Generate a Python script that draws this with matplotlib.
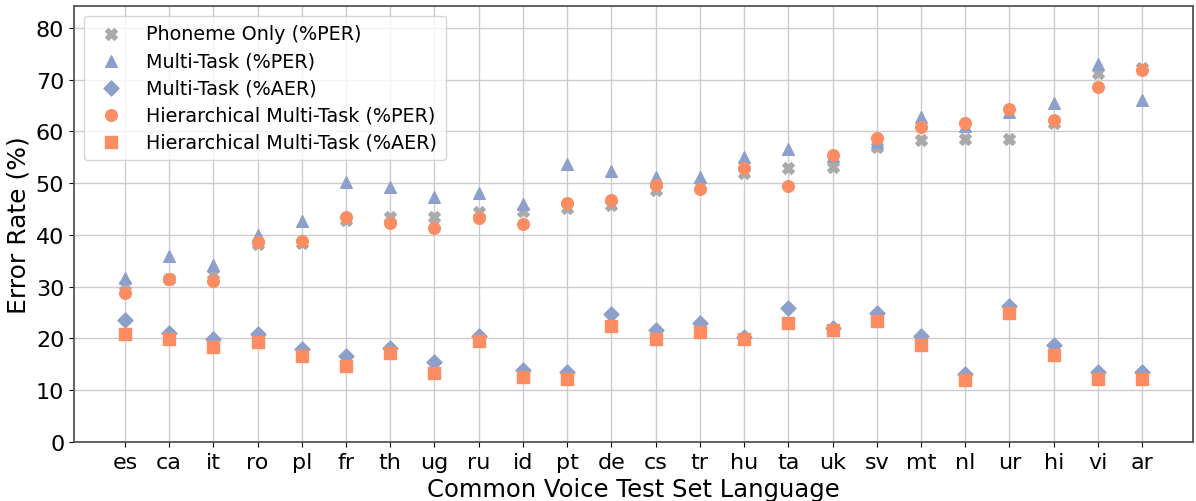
import matplotlib
matplotlib.use("Agg")
import matplotlib.pyplot as plt

languages = ["es", "ca", "it", "ro", "pl", "fr", "th", "ug", "ru", "id", "pt", "de",
             "cs", "tr", "hu", "ta", "uk", "sv", "mt", "nl", "ur", "hi", "vi", "ar"]

phoneme_only_per = [30.3, 31.4, 32.5, 38.2, 38.4, 42.9, 43.4, 43.4, 44.4, 44.6, 45.1, 45.7,
                    48.7, 49.7, 52.0, 53.0, 53.2, 57.0, 58.4, 58.5, 58.5, 61.6, 71.3, 72.2]
multitask_per = [31.6, 35.9, 34.1, 39.9, 42.6, 50.2, 49.2, 47.3, 48.1, 45.9, 53.7, 52.4,
                 51.1, 51.1, 55.1, 56.6, 55.2, 57.9, 62.7, 61.0, 63.7, 65.5, 73.1, 66.1]
multitask_aer = [23.6, 21.1, 19.9, 20.8, 18.0, 16.7, 18.1, 15.5, 20.4, 14.0, 13.5, 24.7,
                 21.6, 23.0, 20.2, 25.9, 22.1, 24.9, 20.5, 13.2, 26.3, 18.7, 13.5, 13.5]
hier_per = [28.7, 31.5, 31.1, 38.7, 38.8, 43.4, 42.3, 41.3, 43.2, 42.1, 46.2, 46.8,
            49.7, 48.9, 53.0, 49.5, 55.4, 58.8, 60.9, 61.6, 64.4, 62.1, 68.6, 71.9]
hier_aer = [20.8, 19.9, 18.3, 19.3, 16.7, 14.7, 17.2, 13.3, 19.6, 12.5, 12.1, 22.4,
            19.9, 21.3, 19.9, 23.0, 21.7, 23.4, 18.8, 12.0, 25.0, 16.9, 12.1, 12.1]

yticks = [0, 10, 20, 30, 40, 50, 60, 70, 80]

gray = "#aaaaaa"
blue = "#8da0cb"
orange = "#fc8d62"

fig = plt.figure(figsize=(11.96, 5.02), dpi=100)
ax = fig.add_axes([0.0619, 0.1175, 0.9356, 0.8685])

x = list(range(len(languages)))
ax.scatter(x, phoneme_only_per, marker="X", s=70, color=gray, label="Phoneme Only (%PER)", zorder=3)
ax.scatter(x, multitask_per, marker="^", s=70, color=blue, label="Multi-Task (%PER)", zorder=3)
ax.scatter(x, multitask_aer, marker="D", s=58, color=blue, label="Multi-Task (%AER)", zorder=3)
ax.scatter(x, hier_per, marker="o", s=70, color=orange, label="Hierarchical Multi-Task (%PER)", zorder=3)
ax.scatter(x, hier_aer, marker="s", s=64, color=orange, label="Hierarchical Multi-Task (%AER)", zorder=3)

ax.set_xticks(x)
ax.set_xticklabels(languages)
ax.set_yticks(yticks)
ax.set_xlim(-1.15, len(languages) - 1 + 1.15)
ax.set_ylim(0, 84.2)
ax.tick_params(axis="both", labelsize=16)
ax.set_xlabel("Common Voice Test Set Language", fontsize=17.5)
ax.set_ylabel("Error Rate (%)", fontsize=18)
ax.grid(True, color="#cccccc", linewidth=1.0, zorder=0)
ax.set_axisbelow(True)
for sp in ax.spines.values():
    sp.set_color("#555555")
    sp.set_linewidth(1.3)

ax.legend(loc="upper left", fontsize=13.8, handletextpad=0.8, borderpad=0.45,
          labelspacing=0.42, borderaxespad=0.5)

fig.savefig("out.png", dpi=100)
